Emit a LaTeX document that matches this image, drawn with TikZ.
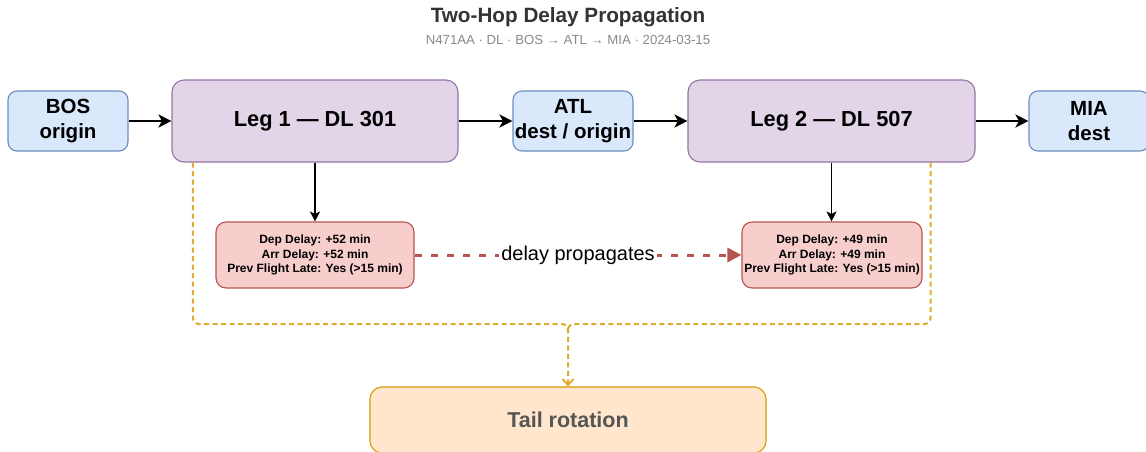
\documentclass[tikz,border=0pt]{standalone}
\usepackage{fontspec}
\setmainfont{Liberation Sans}
\usetikzlibrary{arrows.meta}
\definecolor{bluefill}{HTML}{DAE8FC}
\definecolor{bluedraw}{HTML}{6C8EBF}
\definecolor{purfill}{HTML}{E1D5E7}
\definecolor{purdraw}{HTML}{9673A6}
\definecolor{redfill}{HTML}{F8CECC}
\definecolor{reddraw}{HTML}{B85450}
\definecolor{orgfill}{HTML}{FFE6CC}
\definecolor{orgdraw}{HTML}{D79B00}
\definecolor{golddash}{HTML}{E0AC2C}
\definecolor{titlecol}{HTML}{333333}
\definecolor{subcol}{HTML}{8A8A8A}
\definecolor{tailtext}{HTML}{555555}
\tikzset{
  box/.style={draw, rounded corners=9pt, line width=1.1pt, align=center, inner sep=0pt,
    font=\bfseries\fontsize{20.5}{24.6}\selectfont, text=black},
  bluebox/.style={box, fill=bluefill, draw=bluedraw, minimum width=120pt, minimum height=60pt},
  legbox/.style={box, fill=purfill, draw=purdraw, rounded corners=12pt, minimum width=286pt,
    minimum height=82pt, font=\bfseries\fontsize{21.8}{26}\selectfont},
  delaybox/.style={box, fill=redfill, draw=reddraw, rounded corners=10pt, minimum height=66pt,
    font=\bfseries\fontsize{12}{14.5}\selectfont},
  tailbox/.style={box, fill=orgfill, draw=orgdraw, rounded corners=12pt, minimum width=396pt,
    minimum height=66pt, text=tailtext, font=\bfseries\fontsize{21.5}{26}\selectfont},
  flow/.style={-{Stealth[length=13pt,width=13pt,inset=3.5pt]}, line width=2.7pt},
  downarrow/.style={-{Stealth[length=10pt,width=10pt,inset=2.5pt]}, line width=1.6pt},
  prop/.style={draw=reddraw, line width=3pt, dash pattern=on 7pt off 9pt,
    -{Triangle[length=14pt,width=14pt]}},
  rot/.style={draw=golddash, line width=2pt, dash pattern=on 5pt off 3.5pt, rounded corners=6pt},
  rotarrow/.style={rot, -{Straight Barb[length=6pt,width=11pt]}},
}
\begin{document}
\begin{tikzpicture}[x=1pt,y=-1pt]
\clip (0,0) rectangle (1146,451);
\fill[white] (0,0) rectangle (1146,451);

\node[font=\bfseries\fontsize{20.7}{24}\selectfont, text=titlecol] (title) at (568,17.5) {Two-Hop Delay Propagation};
\node[font=\fontsize{13.2}{16}\selectfont, text=subcol] (sub) at (568,40) {N471AA · DL · BOS → ATL → MIA · 2024-03-15};

\node[bluebox] (bos) at (68,121) {BOS\\origin};
\node[legbox] (leg1) at (315,121) {Leg 1 — DL 301};
\node[bluebox] (atl) at (573,121) {ATL\\dest / origin};
\node[legbox, minimum width=287pt] (leg2) at (831.5,121) {Leg 2 — DL 507};
\node[bluebox] (mia) at (1089,121) {MIA\\dest};

\node[delaybox, minimum width=198pt] (d1) at (315,255) {Dep Delay: +52 min\\Arr Delay: +52 min\\Prev Flight Late: Yes (>15 min)};
\node[delaybox, minimum width=180pt] (d2) at (832,255) {Dep Delay: +49 min\\Arr Delay: +49 min\\Prev Flight Late: Yes (>15 min)};

\node[tailbox] (tail) at (568,420) {Tail rotation};

\draw[flow] (bos) -- (leg1);
\draw[flow] (leg1) -- (atl);
\draw[flow] (atl) -- (leg2);
\draw[flow] (leg2) -- (mia);

\draw[downarrow] (leg1.south) -- (leg1.south |- d1.north);
\draw[downarrow] (leg2.south) -- (leg2.south |- d2.north);

\draw[prop] (d1.east) -- node[fill=white, inner sep=2pt, font=\fontsize{20}{24}\selectfont] (lbl) {delay propagates} (d2.west);

\coordinate (l1d) at ([xshift=21.5pt]leg1.south west);
\coordinate (l2d) at ([xshift=-45pt]leg2.south east);
\coordinate (junc) at (568,324);
\coordinate (juncb) at (568,330);
\draw[rotarrow] (l1d) |- (junc) -- (tail.north);
\draw[rot] (l2d) |- (junc) -- (juncb);
\end{tikzpicture}
\end{document}
